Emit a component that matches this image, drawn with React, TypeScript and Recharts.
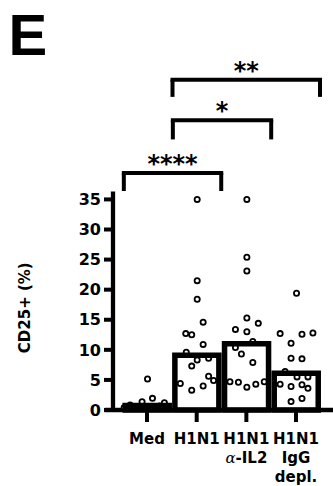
import React from 'react';
import { ComposedChart, Bar, Scatter, XAxis, YAxis, ReferenceLine, Label } from 'recharts';

// categories on the x axis (index = x value)
const categories = ['Med', 'H1N1', 'H1N1\nα-IL2', 'H1N1\nIgG\ndepl.'];
const medians = [0.76, 9.1, 11.0, 6.1];

// individual donors, value + horizontal jitter (in category units)
const medValues = [0.4, 0.55, 0.83, 1.38, 5.15, 1.94, 0.66, 1.22];
const medOffsets = [-0.46, -0.22, -0.34, -0.1, 0.01, 0.11, 0.25, 0.35];

const h1n1Values = [35.0, 21.5, 18.4, 14.6, 12.7, 12.5, 10.9, 9.6, 8.3, 8.6, 7.3, 5.6, 4.4, 4.9, 4.0, 3.3];
const h1n1Offsets = [0.01, 0.01, 0.01, 0.13, -0.22, -0.1, 0.13, -0.21, 0.01, 0.24, -0.1, 0.24, -0.33, 0.34, 0.13, -0.1];

const il2Values = [35.0, 25.4, 23.1, 15.3, 14.4, 13.4, 13.0, 11.4, 10.4, 9.3, 7.9, 4.7, 4.6, 3.8, 4.3, 4.7];
const il2Offsets = [0.01, 0.01, 0.01, 0.01, 0.24, -0.22, 0.01, 0.13, -0.22, -0.1, 0.13, -0.33, -0.16, 0.01, 0.19, 0.36];

const iggValues = [19.4, 12.7, 12.6, 12.8, 11.1, 8.6, 8.5, 6.4, 5.5, 5.5, 4.3, 3.9, 4.2, 3.6, 1.9, 1.4];
const iggOffsets = [0.01, -0.32, 0.12, 0.34, -0.1, -0.1, 0.12, -0.22, 0.02, 0.24, -0.32, -0.1, 0.12, 0.24, 0.12, -0.1];

const yTicks = [0, 5, 10, 15, 20, 25, 30, 35];

// significance brackets (x in category units, y in %)
const brackets = [
  { stars: '****', from: -0.467, to: 1.494, top: 39.4, foot: 36.4 },
  { stars: '*', from: 0.52, to: 2.5, top: 48.17, foot: 44.97 },
  { stars: '**', from: 0.513, to: 3.483, top: 54.9, foot: 52.04 },
];

const barData = medians.map((m, i) => ({ x: i, name: categories[i], median: m }));
const groups = [
  [medValues, medOffsets],
  [h1n1Values, h1n1Offsets],
  [il2Values, il2Offsets],
  [iggValues, iggOffsets],
];
const dotData = groups.flatMap(([vals, offs], i) => vals.map((v, j) => ({ x: i + offs[j], y: v })));

const FONT = '"DejaVu Sans", sans-serif';

const CatTick = (props: any) => {
  const { x, y, payload } = props;
  const lines = (categories[payload.value] || '').split('\n');
  return (
    <text x={x} y={y} textAnchor="middle" fontFamily={FONT} fontSize={15} fontWeight="bold" fill="#000">
      {lines.map((line, i) => {
        const parts = line.split('α');
        return (
          <tspan key={i} x={x} dy={i === 0 ? 20 : 19}>
            {parts.length > 1 ? (
              <>
                <tspan fontStyle="italic" fontWeight="normal" fontFamily='"DejaVu Serif", serif'>α</tspan>
                {parts[1]}
              </>
            ) : line}
          </tspan>
        );
      })}
    </text>
  );
};

const YLabel = (props: any) => {
  const { viewBox } = props;
  const cx = 30;
  const cy = viewBox.y + viewBox.height * (1 - 17 / 60);
  return (
    <text x={cx} y={cy} transform={`rotate(-90, ${cx}, ${cy})`} textAnchor="middle"
      fontFamily={FONT} fontSize={15} fontWeight="bold" fill="#000">
      CD25+ (%)
    </text>
  );
};

const Dot = (p: any) => (
  <circle cx={p.cx} cy={p.cy} r={2.6} fill="#fff" stroke="#000" strokeWidth={1.8} />
);

export default function App() {
  return (
    <div style={{ position: 'absolute', left: 0, top: 0, width: 333, height: 486, background: '#fff' }}>
      <ComposedChart width={333} height={486} data={barData} margin={{ top: 49, right: 3, bottom: 6, left: 53 }}>
        <XAxis
          xAxisId="num"
          type="number"
          dataKey="x"
          domain={[-0.685, 3.684]}
          ticks={[0, 1, 2, 3]}
          interval={0}
          axisLine={false}
          tickLine={{ stroke: '#000', strokeWidth: 4 }}
          tickSize={12}
          height={70}
          tick={<CatTick />}
        />
        <XAxis
          xAxisId="cat"
          type="category"
          dataKey="name"
          hide
          height={0}
          padding={{ left: 9.2, right: 9.1 }}
        />
        <YAxis
          domain={[0, 60]}
          ticks={yTicks}
          interval={0}
          width={60}
          axisLine={false}
          tickLine={{ stroke: '#000', strokeWidth: 4 }}
          tickSize={9}
          tickMargin={3}
          tick={{ fill: '#000', fontSize: 16, fontWeight: 'bold', fontFamily: FONT }}
          label={<Label content={<YLabel />} />}
        />
        <ReferenceLine xAxisId="num" segment={[{ x: -0.685, y: 0 }, { x: -0.685, y: 36.3 }]} stroke="#000" strokeWidth={4.3} ifOverflow="visible" />
        <ReferenceLine xAxisId="num" segment={[{ x: -0.85, y: 0 }, { x: 3.75, y: 0 }]} stroke="#000" strokeWidth={4.5} ifOverflow="visible" />
        <Scatter xAxisId="num" data={dotData} dataKey="y" shape={<Dot />} isAnimationActive={false} />
        <Bar xAxisId="cat" dataKey="median" barSize={44} fill="none" stroke="#000" strokeWidth={5.5} isAnimationActive={false} zIndex={700} />
        {brackets.map((b, i) => (
          <ReferenceLine key={`h${i}`} xAxisId="num" segment={[{ x: b.from, y: b.top }, { x: b.to, y: b.top }]}
            stroke="#000" strokeWidth={4} strokeLinecap="square" ifOverflow="visible">
            <Label value={b.stars} position="top" offset={1} fill="#000" fontSize={24} fontWeight="bold" fontFamily={FONT} />
          </ReferenceLine>
        ))}
        {brackets.map((b, i) => (
          <ReferenceLine key={`l${i}`} xAxisId="num" segment={[{ x: b.from, y: b.top }, { x: b.from, y: b.foot }]}
            stroke="#000" strokeWidth={4} ifOverflow="visible" />
        ))}
        {brackets.map((b, i) => (
          <ReferenceLine key={`r${i}`} xAxisId="num" segment={[{ x: b.to, y: b.top }, { x: b.to, y: b.foot }]}
            stroke="#000" strokeWidth={4} ifOverflow="visible" />
        ))}
      </ComposedChart>
      <svg width={333} height={486} style={{ position: 'absolute', left: 0, top: 0, pointerEvents: 'none' }}>
        <text x={8.5} y={55} fontFamily='"Liberation Sans", Arial, sans-serif' fontSize={58} fontWeight="bold" fill="#000">E</text>
      </svg>
    </div>
  );
}
